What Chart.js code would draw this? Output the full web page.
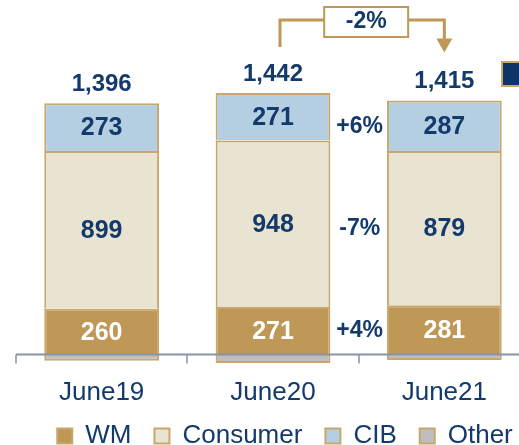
<!DOCTYPE html>
<html>
<head>
<meta charset="utf-8">
<script src="https://cdn.jsdelivr.net/npm/chart.js@4.4.1/dist/chart.umd.min.js"></script>
<style>
  html, body { margin: 0; padding: 0; background: #fff; overflow: hidden; }
  #wrap { width: 531px; height: 445px; }
</style>
</head>
<body>
<div id="wrap"><canvas id="mixChart" width="531" height="445"></canvas></div>
<script>
// Segment mix chart, June19 - June21
const categories = ['June19', 'June20', 'June21'];
const wmValues = [260, 271, 281];
const consumerValues = [899, 948, 879];
const cibValues = [273, 271, 287];
const otherValues = [-36, -48, -32];
const totals = [1396, 1442, 1415];
const growthLabels = ['+4%', '-7%', '+6%']; // WM, Consumer, CIB : June20 -> June21
const totalGrowth = '-2%';

const COLORS = {
  navy: '#133A6A',
  gold: '#BF9858',
  border: '#C9A66B',
  consumer: '#E9E4D2',
  cib: '#B4CFE1',
  other: '#BEBEBE',
  axis: '#8893A6',
};
const FONT = "'Liberation Sans', Arial, sans-serif";
const LEGEND_SHIFT = { x: 12, y: -5 };

// ── Labels, zero axis and growth bracket ─────────────────
const overlay = {
  id: 'overlay',
  afterLayout(chart) {
    const lg = chart.legend;
    if (!lg) return;
    lg.left += LEGEND_SHIFT.x; lg.right += LEGEND_SHIFT.x;
    lg.top += LEGEND_SHIFT.y; lg.bottom += LEGEND_SHIFT.y;
  },
  afterDatasetsDraw(chart) {
    const { ctx, scales: { x, y } } = chart;
    const zero = y.getPixelForValue(0);
    const step = x.width / categories.length;
    ctx.save();

    // axis line at zero
    ctx.strokeStyle = COLORS.axis;
    ctx.lineWidth = 2;
    ctx.beginPath();
    ctx.moveTo(x.left, zero);
    ctx.lineTo(chart.width, zero);
    ctx.stroke();
    ctx.lineWidth = 1.5;
    ctx.beginPath();
    for (let i = 0; i <= categories.length; i++) {
      const px = Math.round(x.left + i * step);
      ctx.moveTo(px, zero);
      ctx.lineTo(px, zero + 9);
    }
    ctx.stroke();

    ctx.textAlign = 'center';
    ctx.textBaseline = 'middle';

    // segment values
    ctx.font = `bold 25px ${FONT}`;
    [0, 1, 2].forEach(di => {
      const ds = chart.data.datasets[di];
      chart.getDatasetMeta(di).data.forEach((el, i) => {
        ctx.fillStyle = di === 0 ? '#FFFFFF' : COLORS.navy;
        ctx.fillText(ds.data[i].toLocaleString('en-US'), el.x, (el.y + el.base) / 2 + 1);
      });
    });

    // totals on top
    const tops = chart.getDatasetMeta(2).data;
    ctx.font = `bold 24px ${FONT}`;
    ctx.fillStyle = COLORS.navy;
    tops.forEach((el, i) => ctx.fillText(totals[i].toLocaleString('en-US'), el.x, el.y - 19));

    // growth per segment, between June20 and June21
    const gx = x.left + 2 * step + 1;
    ctx.font = `bold 23px ${FONT}`;
    [0, 1, 2].forEach(di => {
      const el = chart.getDatasetMeta(di).data[2];
      ctx.fillText(growthLabels[di], gx, (el.y + el.base) / 2 + 1);
    });

    // bracket with total growth
    const x1 = tops[1].x + 7, x2 = tops[2].x;
    const lineY = tops[1].y - 73;
    const tipY = tops[2].y - 48;
    ctx.strokeStyle = COLORS.gold;
    ctx.fillStyle = COLORS.gold;
    ctx.lineWidth = 3;
    ctx.beginPath();
    ctx.moveTo(x1, tops[1].y - 46);
    ctx.lineTo(x1, lineY);
    ctx.lineTo(x2, lineY);
    ctx.lineTo(x2, tipY - 13);
    ctx.stroke();
    ctx.beginPath();
    ctx.moveTo(x2 - 8, tipY - 14);
    ctx.lineTo(x2 + 8, tipY - 14);
    ctx.lineTo(x2, tipY);
    ctx.closePath();
    ctx.fill();

    const bx = (x1 + x2) / 2 + 4;
    ctx.fillStyle = '#FFFFFF';
    ctx.lineWidth = 2;
    ctx.fillRect(bx - 42, lineY - 13, 84, 30);
    ctx.strokeRect(bx - 42, lineY - 13, 84, 30);
    ctx.fillStyle = COLORS.navy;
    ctx.font = `bold 23px ${FONT}`;
    ctx.fillText(totalGrowth, bx, lineY + 2);

    // clipped legend swatch at the right edge
    ctx.fillStyle = '#0D3466';
    ctx.fillRect(502, 62, 24, 24);
    ctx.strokeStyle = COLORS.border;
    ctx.strokeRect(502, 62, 24, 24);

    ctx.restore();
  }
};

const seriesStyle = { borderColor: COLORS.border, borderWidth: 2, barPercentage: 0.67, categoryPercentage: 1 };

new Chart(document.getElementById('mixChart'), {
  type: 'bar',
  data: {
    labels: categories,
    datasets: [
      { label: 'WM', data: wmValues, backgroundColor: COLORS.gold, ...seriesStyle },
      { label: 'Consumer', data: consumerValues, backgroundColor: COLORS.consumer, ...seriesStyle },
      { label: 'CIB', data: cibValues, backgroundColor: COLORS.cib, ...seriesStyle },
      { label: 'Other', data: otherValues, backgroundColor: COLORS.other, ...seriesStyle },
    ]
  },
  options: {
    responsive: false,
    animation: false,
    devicePixelRatio: 1,
    layout: { padding: { left: 16, right: 1, top: 0, bottom: -19 } },
    plugins: {
      legend: {
        position: 'bottom',
        labels: {
          boxWidth: 15, boxHeight: 15, padding: 23,
          color: COLORS.navy,
          font: { family: FONT, size: 26 }
        }
      },
      tooltip: { enabled: false }
    },
    scales: {
      x: {
        stacked: true,
        grid: { display: false },
        border: { display: false },
        ticks: { color: COLORS.navy, font: { family: FONT, size: 26 }, padding: 4 },
        afterFit: (s) => { s.height = 40; }
      },
      y: { stacked: true, display: false, min: -60, max: 2020 }
    }
  },
  plugins: [overlay]
});
</script>
</body>
</html>
